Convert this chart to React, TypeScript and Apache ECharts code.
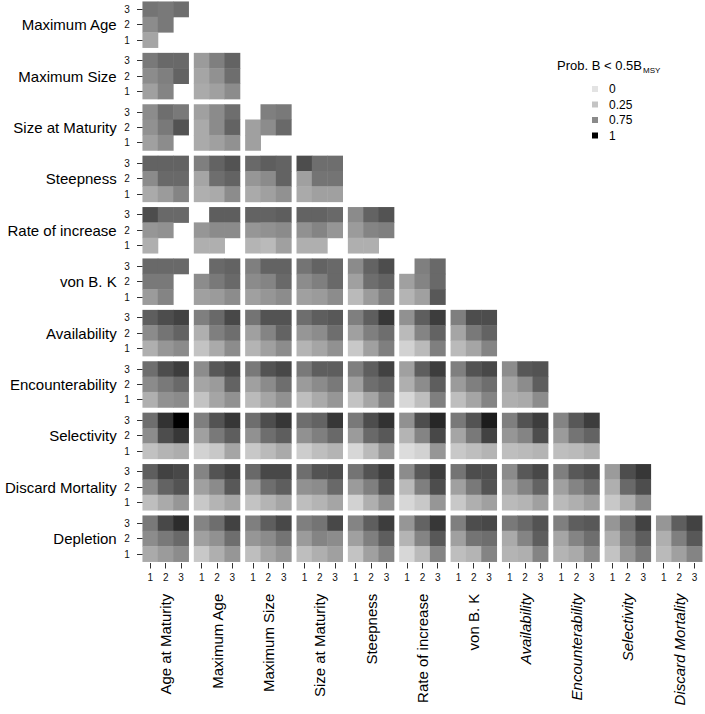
import React, { useEffect, useRef } from 'react';
import * as echarts from 'echarts';

// Row (y) factor labels, top to bottom
const rowLabels = [
  'Maximum Age', 'Maximum Size', 'Size at Maturity', 'Steepness', 'Rate of increase',
  'von B. K', 'Availability', 'Encounterability', 'Selectivity', 'Discard Mortality', 'Depletion',
];
// Column (x) factor labels, left to right
const colLabels = [
  'Age at Maturity', 'Maximum Age', 'Maximum Size', 'Size at Maturity', 'Steepness',
  'Rate of increase', 'von B. K', 'Availability', 'Encounterability', 'Selectivity', 'Discard Mortality',
];
const italicColLabels = ['Availability', 'Encounterability', 'Selectivity', 'Discard Mortality'];
const levels = ['1', '2', '3'];

const legendTitle = 'Prob. B < 0.5B';
const legendSub = 'MSY';
const legendValues = ['0', '0.25', '0.75', '1'];
const legendColors = ['#e3e3e3', '#c4c4c4', '#8a8a8a', '#000000'];
const rampColors = ['#e3e3e3', '#c4c4c4', '#a7a7a7', '#8a8a8a', '#000000'];

// Each panel: [row level 3 (top), level 2, level 1 (bottom)], each [x level 1, 2, 3]; null = no value
const maximumAge = [
  [[0.79, 0.78, 0.80], [0.73, 0.78, null], [0.52, null, null]],
];
const maximumSize = [
  [[0.78, 0.81, 0.81], [0.73, 0.77, 0.82], [0.56, 0.76, null]],
  [[0.60, 0.77, 0.82], [0.52, 0.69, 0.80], [0.47, 0.56, 0.73]],
];
const sizeAtMaturity = [
  [[0.73, 0.80, 0.78], [0.69, 0.78, 0.85], [0.56, 0.73, null]],
  [[0.56, 0.74, 0.80], [0.47, 0.74, 0.82], [0.47, 0.56, 0.69]],
  [[null, 0.77, 0.78], [0.56, 0.73, 0.81], [0.56, null, null]],
];
const steepness = [
  [[0.82, 0.82, 0.82], [0.74, 0.81, 0.81], [0.47, 0.60, 0.76]],
  [[0.77, 0.82, 0.85], [0.52, 0.80, 0.82], [0.43, 0.47, 0.73]],
  [[0.81, 0.83, 0.82], [0.65, 0.74, 0.82], [0.47, 0.56, 0.69]],
  [[0.86, 0.80, 0.80], [0.56, 0.79, 0.79], [0.47, 0.56, 0.56]],
];
const rateOfIncrease = [
  [[0.86, 0.81, 0.81], [0.65, 0.69, null], [0.43, null, null]],
  [[null, 0.83, 0.83], [0.65, 0.74, 0.74], [0.43, 0.43, null]],
  [[0.82, 0.82, 0.83], [0.65, 0.69, 0.74], [0.39, 0.34, 0.56]],
  [[0.82, 0.82, 0.81], [0.69, 0.76, 0.65], [0.43, 0.43, null]],
  [[0.74, 0.82, 0.85], [0.60, 0.76, 0.77], [0.43, 0.43, null]],
];
const vonBK = [
  [[0.81, 0.81, 0.81], [0.78, 0.78, null], [0.60, 0.76, null]],
  [[null, 0.81, 0.82], [0.73, 0.78, 0.81], [0.56, 0.60, 0.73]],
  [[0.77, 0.82, 0.82], [0.74, 0.76, 0.81], [0.56, 0.65, 0.73]],
  [[0.79, 0.82, 0.81], [0.73, 0.77, 0.81], [0.56, 0.60, 0.73]],
  [[0.74, 0.82, 0.86], [0.56, 0.80, 0.82], [0.34, 0.60, 0.77]],
  [[null, 0.77, 0.81], [0.56, 0.76, 0.81], [0.39, 0.56, 0.84]],
];
const availability = [
  [[0.83, 0.86, 0.88], [0.74, 0.79, 0.82], [0.43, 0.65, 0.74]],
  [[0.77, 0.81, 0.87], [0.43, 0.77, 0.80], [0.26, 0.47, 0.73]],
  [[0.79, 0.85, 0.85], [0.56, 0.76, 0.82], [0.39, 0.56, 0.73]],
  [[0.80, 0.83, 0.84], [0.65, 0.73, 0.80], [0.39, 0.52, 0.69]],
  [[0.77, 0.83, 0.90], [0.56, 0.77, 0.80], [0.22, 0.56, 0.77]],
  [[0.69, 0.83, 0.89], [0.34, 0.76, 0.82], [0.14, 0.34, 0.77]],
  [[0.77, 0.86, 0.86], [0.52, 0.78, 0.82], [0.34, 0.52, 0.76]],
];
const encounterability = [
  [[0.80, 0.86, 0.89], [0.74, 0.78, 0.81], [0.43, 0.69, 0.74]],
  [[0.73, 0.84, 0.87], [0.52, 0.60, 0.82], [0.26, 0.52, 0.69]],
  [[0.78, 0.85, 0.87], [0.56, 0.74, 0.80], [0.34, 0.52, 0.69]],
  [[0.78, 0.83, 0.83], [0.60, 0.74, 0.78], [0.30, 0.47, 0.65]],
  [[0.77, 0.83, 0.88], [0.56, 0.80, 0.82], [0.26, 0.52, 0.77]],
  [[0.56, 0.83, 0.89], [0.43, 0.73, 0.83], [0.10, 0.30, 0.77]],
  [[0.77, 0.85, 0.87], [0.60, 0.77, 0.80], [0.30, 0.52, 0.76]],
  [[0.73, 0.84, 0.85], [0.52, 0.73, 0.83], [0.43, 0.47, 0.73]],
];
const selectivity = [
  [[0.80, 0.91, 1.00], [0.73, 0.86, 0.90], [0.28, 0.39, 0.45]],
  [[0.77, 0.85, 0.90], [0.56, 0.78, 0.83], [0.14, 0.22, 0.52]],
  [[0.80, 0.86, 0.90], [0.69, 0.80, 0.83], [0.22, 0.34, 0.47]],
  [[0.80, 0.82, 0.90], [0.69, 0.77, 0.81], [0.18, 0.30, 0.39]],
  [[0.78, 0.86, 0.91], [0.60, 0.81, 0.84], [0.10, 0.34, 0.65]],
  [[0.69, 0.86, 0.93], [0.39, 0.76, 0.87], [0.06, 0.14, 0.65]],
  [[0.78, 0.85, 0.95], [0.52, 0.78, 0.88], [0.22, 0.30, 0.39]],
  [[0.77, 0.85, 0.89], [0.65, 0.76, 0.86], [0.30, 0.34, 0.39]],
  [[0.76, 0.84, 0.89], [0.60, 0.79, 0.82], [0.30, 0.34, 0.43]],
];
const discardMortality = [
  [[0.83, 0.88, 0.87], [0.74, 0.82, 0.85], [0.30, 0.47, 0.65]],
  [[0.76, 0.85, 0.88], [0.56, 0.74, 0.84], [0.22, 0.39, 0.52]],
  [[0.81, 0.87, 0.87], [0.60, 0.80, 0.83], [0.26, 0.39, 0.52]],
  [[0.80, 0.85, 0.86], [0.69, 0.73, 0.81], [0.30, 0.39, 0.52]],
  [[0.79, 0.85, 0.89], [0.60, 0.77, 0.85], [0.14, 0.43, 0.69]],
  [[0.73, 0.84, 0.89], [0.34, 0.77, 0.86], [0.10, 0.22, 0.65]],
  [[0.79, 0.86, 0.86], [0.56, 0.78, 0.85], [0.22, 0.43, 0.56]],
  [[0.74, 0.84, 0.87], [0.56, 0.76, 0.82], [0.34, 0.39, 0.56]],
  [[0.77, 0.84, 0.86], [0.56, 0.76, 0.80], [0.34, 0.43, 0.56]],
  [[0.60, 0.86, 0.90], [0.43, 0.81, 0.86], [0.22, 0.43, 0.74]],
];
const depletion = [
  [[0.78, 0.87, 0.92], [0.73, 0.78, 0.81], [0.47, 0.60, 0.73]],
  [[0.76, 0.80, 0.88], [0.56, 0.69, 0.80], [0.22, 0.43, 0.65]],
  [[0.77, 0.83, 0.87], [0.65, 0.74, 0.79], [0.30, 0.52, 0.65]],
  [[0.77, 0.79, 0.87], [0.60, 0.76, 0.73], [0.30, 0.43, 0.56]],
  [[0.76, 0.83, 0.89], [0.56, 0.77, 0.83], [0.26, 0.56, 0.76]],
  [[0.65, 0.82, 0.90], [0.39, 0.76, 0.84], [0.10, 0.34, 0.76]],
  [[0.77, 0.86, 0.87], [0.56, 0.79, 0.80], [0.30, 0.39, 0.76]],
  [[0.78, 0.81, 0.85], [0.47, 0.76, 0.83], [0.39, 0.43, 0.76]],
  [[0.77, 0.83, 0.84], [0.52, 0.76, 0.80], [0.39, 0.47, 0.74]],
  [[0.65, 0.80, 0.88], [0.43, 0.77, 0.83], [0.26, 0.65, 0.78]],
  [[0.65, 0.83, 0.88], [0.43, 0.77, 0.84], [0.34, 0.56, 0.76]],
];

const panelRows = [
  maximumAge, maximumSize, sizeAtMaturity, steepness, rateOfIncrease, vonBK,
  availability, encounterability, selectivity, discardMortality, depletion,
];

const FONT = '"Liberation Sans", Arial, sans-serif';

export default function App() {
  const ref = useRef<HTMLDivElement>(null);

  useEffect(() => {
    if (!ref.current) return;
    const chart = echarts.init(ref.current, null, { renderer: 'svg' });

    const X0 = 142.7;
    const PX = 51.35;
    const Y0 = 1.7;
    const PY = 51.4;
    const S = 46;
    const lastRow = panelRows.length - 1;

    const grids: any[] = [];
    const xAxes: any[] = [];
    const yAxes: any[] = [];
    const series: any[] = [];
    const bottomGrids: number[] = [];
    const leftGrids: number[] = [];

    panelRows.forEach((panels, r) => {
      panels.forEach((panel, c) => {
        const i = grids.length;
        grids.push({
          left: X0 + c * PX,
          top: Y0 + r * PY,
          width: S,
          height: S,
          containLabel: false,
        });
        const showX = r === lastRow;
        const showY = c === 0;
        if (showX) bottomGrids.push(i);
        if (showY) leftGrids.push(i);
        xAxes.push({
          gridIndex: i,
          type: 'category',
          data: levels,
          axisLine: { show: false },
          splitLine: { show: false },
          axisTick: { show: false },
          axisLabel: { show: showX, interval: 0, fontSize: 10, color: '#111', margin: 11, fontFamily: FONT },
          name: showX ? colLabels[c] : '',
          nameLocation: 'middle',
          nameRotate: 90,
          nameGap: 32,
          nameTextStyle: {
            fontSize: 15,
            color: '#000',
            fontFamily: FONT,
            fontStyle: italicColLabels.includes(colLabels[c]) ? 'italic' : 'normal',
          },
        });
        yAxes.push({
          gridIndex: i,
          type: 'category',
          data: levels,
          axisLine: { show: false },
          splitLine: { show: false },
          axisTick: { show: false },
          axisLabel: { show: showY, interval: 0, fontSize: 10, color: '#111', margin: 13, fontFamily: FONT },
          name: showY ? rowLabels[r] : '',
          nameLocation: 'middle',
          nameRotate: 0,
          nameGap: 26,
          nameTextStyle: { fontSize: 15, color: '#000', fontFamily: FONT },
        });
        const data: any[] = [];
        panel.forEach((rowVals, k) => {
          rowVals.forEach((v, j) => {
            if (v !== null) data.push([j, 2 - k, v]);
          });
        });
        series.push({
          type: 'heatmap',
          xAxisIndex: i,
          yAxisIndex: i,
          data,
          itemStyle: { borderWidth: 0 },
          emphasis: { disabled: true },
          label: { show: false },
          progressive: 0,
        });
      });
    });

    const legendX = 592;
    const legendY0 = 86;
    const legendStep = 15.5;
    const graphics: any[] = [
      {
        type: 'text',
        left: 557,
        top: 59,
        style: { text: legendTitle, fontSize: 13, fontFamily: FONT, fill: '#000' },
      },
      {
        type: 'text',
        left: 643,
        top: 66,
        style: { text: legendSub, fontSize: 8, fontFamily: FONT, fill: '#000' },
      },
    ];
    legendValues.forEach((lab, i) => {
      graphics.push({
        type: 'rect',
        shape: { x: legendX, y: legendY0 + i * legendStep, width: 6, height: 6 },
        style: { fill: legendColors[i] },
      });
      graphics.push({
        type: 'text',
        x: 609,
        y: legendY0 + 3 + i * legendStep,
        style: { text: lab, fontSize: 12, fontFamily: FONT, fill: '#000', verticalAlign: 'middle', align: 'left' },
      });
    });

    chart.setOption({
      animation: false,
      backgroundColor: '#ffffff',
      textStyle: { fontFamily: FONT },
      grid: grids,
      xAxis: xAxes,
      yAxis: yAxes,
      visualMap: {
        show: false,
        type: 'continuous',
        min: 0,
        max: 1,
        dimension: 2,
        seriesIndex: series.map((_, i) => i),
        inRange: { color: rampColors },
      },
      series,
      graphic: graphics,
    });

    // Axis ticks (filled 1px rects) placed through the library's own axis scales
    const tickEls: any[] = [];
    const cellHalf = S / 6;
    try {
      const model = (chart as any).getModel();
      bottomGrids.forEach((gi) => {
        const xAx = model.getComponent('xAxis', gi).axis;
        const yAx = model.getComponent('yAxis', gi).axis;
        const yb = yAx.toGlobalCoord(yAx.dataToCoord(0)) + cellHalf;
        levels.forEach((_, j) => {
          const px = xAx.toGlobalCoord(xAx.dataToCoord(j));
          if (!isFinite(px) || !isFinite(yb)) return;
          tickEls.push({
            type: 'rect',
            shape: { x: Math.round(px - 0.5), y: Math.round(yb + 1.5), width: 1, height: 5.5 },
            style: { fill: '#333333' },
            z: 100,
            silent: true,
          });
        });
      });
      leftGrids.forEach((gi) => {
        const xAx = model.getComponent('xAxis', gi).axis;
        const yAx = model.getComponent('yAxis', gi).axis;
        const xl = xAx.toGlobalCoord(xAx.dataToCoord(0)) - cellHalf;
        levels.forEach((_, j) => {
          const py = yAx.toGlobalCoord(yAx.dataToCoord(j));
          if (!isFinite(py) || !isFinite(xl)) return;
          tickEls.push({
            type: 'rect',
            shape: { x: Math.round(xl - 5.5), y: Math.round(py - 0.5), width: 5.5, height: 1 },
            style: { fill: '#333333' },
            z: 100,
            silent: true,
          });
        });
      });
    } catch (e) {
      // ticks are decorative; keep the chart if the axis lookup fails
    }
    if (tickEls.length) {
      chart.setOption({ graphic: [...graphics, ...tickEls] }, { replaceMerge: ['graphic'] } as any);
    }

    return () => chart.dispose();
  }, []);

  return (
    <div
      ref={ref}
      style={{ position: 'absolute', left: 0, top: 0, width: 705, height: 714 }}
    />
  );
}
